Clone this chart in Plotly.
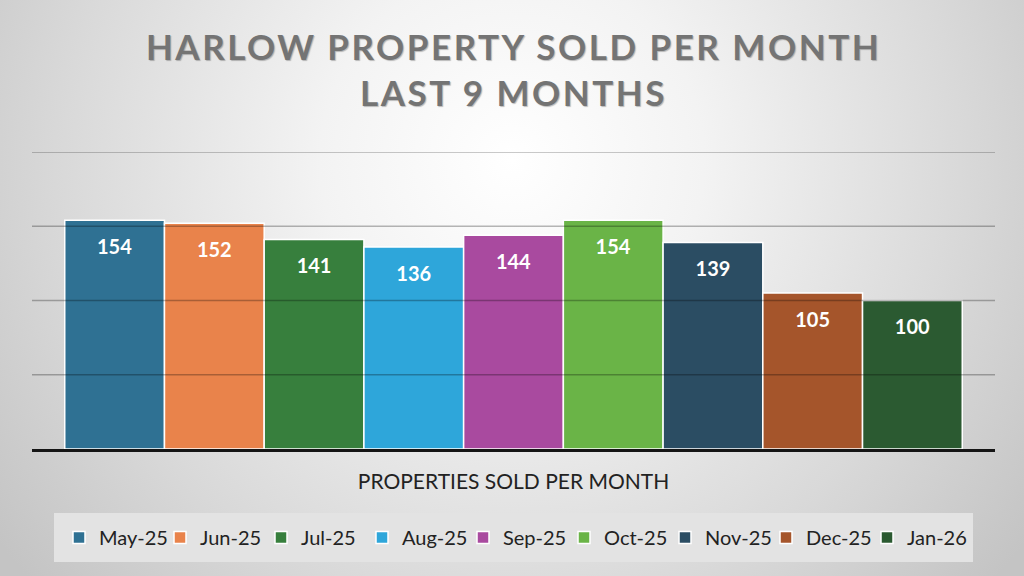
import base64
import plotly.graph_objects as go

# Data
months = ["May-25", "Jun-25", "Jul-25", "Aug-25", "Sep-25", "Oct-25", "Nov-25", "Dec-25", "Jan-26"]
sold = [154, 152, 141, 136, 144, 154, 139, 105, 100]
category = "PROPERTIES SOLD PER MONTH"
colors = ["#2f7193", "#e9834b", "#377f3d", "#2ea6da", "#a94a9f",
          "#6ab447", "#2b4d63", "#a5552b", "#2b5a31"]
grid_values = [50, 100, 150, 200]

W, H = 1024, 576
M = dict(l=32, r=29, t=152, b=127)
pw = W - M["l"] - M["r"]
ph = H - M["t"] - M["b"]

# soft radial grey background
svg = f"""<svg xmlns='http://www.w3.org/2000/svg' width='{W}' height='{H}' viewBox='0 0 {W} {H}' preserveAspectRatio='none'>
<defs><radialGradient id='g' gradientUnits='userSpaceOnUse' cx='512' cy='160' r='640'>
<stop offset='0' stop-color='#ffffff'/><stop offset='0.3' stop-color='#f3f3f3'/>
<stop offset='0.7' stop-color='#d9d9d9'/><stop offset='1' stop-color='#c4c4c4'/>
</radialGradient></defs><rect width='{W}' height='{H}' fill='url(#g)'/></svg>"""
bg_uri = "data:image/svg+xml;base64," + base64.b64encode(svg.encode()).decode()

fig = go.Figure()
for m, v, c in zip(months, sold, colors):
    fig.add_trace(go.Bar(
        name=m, x=[category], y=[v],
        marker=dict(color=c, line=dict(color="white", width=1.5)),
        text=[v],
        # small blank first line pushes the number a bit below the bar top
        texttemplate="\u00a0<br><span style='font-size:20px'>%{y}</span>",
        textposition="inside", insidetextanchor="end", textangle=0,
        textfont=dict(family="Lato", size=13.5, color="white", weight=700),
        cliponaxis=False,
    ))

title_txt = ('<span style="letter-spacing:2.5px">HARLOW PROPERTY SOLD PER MONTH</span><br>'
             '<span style="letter-spacing:2.5px">LAST 9 MONTHS</span>')

fig.update_layout(
    width=W, height=H, margin=M,
    barmode="group", bargap=0.068, bargroupgap=0,
    paper_bgcolor="#dedede", plot_bgcolor="rgba(0,0,0,0)",
    title=dict(text=title_txt, x=0.5, xanchor="center", xref="paper",
               y=1 - 60 / H, yanchor="top", yref="container",
               font=dict(family="Lato", size=35, color="#747474", weight=700,
                         shadow="1px 1px 1px rgba(0,0,0,0.25)")),
    showlegend=True,
    legend=dict(orientation="h", x=0.5, xanchor="center", y=(449 - 513) / ph,
                yanchor="top", bgcolor="#e3e3e3", bordercolor="#e3e3e3", borderwidth=5,
                entrywidth=56, entrywidthmode="pixels",
                font=dict(family="Lato", size=20, color="#222222"),
                traceorder="normal"),
    xaxis=dict(showline=True, linecolor="#151515", linewidth=3, showgrid=False,
               ticks="", tickfont=dict(family="Lato", size=21, color="#222222"),
               ticklabelstandoff=12),
    yaxis=dict(range=[0, 200], showgrid=False, showticklabels=False, zeroline=False),
    images=[dict(source=bg_uri, xref="paper", yref="paper",
                 x=-M["l"] / pw, y=1 + M["t"] / ph, sizex=W / pw, sizey=H / ph,
                 sizing="stretch", xanchor="left", yanchor="top", layer="below")],
)

for g in grid_values:
    fig.add_shape(type="line", xref="paper", yref="y", x0=0, x1=1, y0=g, y1=g,
                  line=dict(color="rgba(0,0,0,0.28)", width=1.5), layer="above")

fig.write_html("out.html", config={"displayModeBar": False},
               post_script="document.body.style.margin='0';")
